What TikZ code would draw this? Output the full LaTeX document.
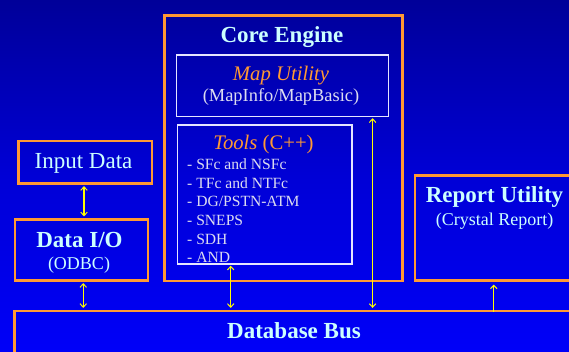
\documentclass[tikz,border=0pt]{standalone}
\usepackage{fontspec}
\setmainfont{Liberation Serif}
\usetikzlibrary{arrows.meta}

\definecolor{bgtop}{HTML}{000099}
\definecolor{bgmid}{HTML}{0000D6}
\definecolor{bgbot}{HTML}{0000F8}
\definecolor{frameorange}{HTML}{FF9933}
\definecolor{titlecyan}{HTML}{CCFFFF}
\definecolor{subgrey}{HTML}{DCDCF0}
\definecolor{linkyellow}{HTML}{FFFF00}

\tikzset{
  outerbox/.style={draw=frameorange, line width=2.5pt, inner sep=0pt},
  innerbox/.style={draw=white!90!blue, line width=1.4pt, inner sep=0pt},
  title/.style={text=titlecyan, font=\fontsize{23}{27}\selectfont\bfseries, anchor=base, inner sep=0pt},
  subtitle/.style={text=titlecyan, font=\fontsize{18}{21}\selectfont, anchor=base, inner sep=0pt},
  greysub/.style={text=subgrey, font=\fontsize{18.4}{21}\selectfont, anchor=base, inner sep=0pt},
  plain/.style={text=titlecyan, font=\fontsize{23}{27}\selectfont, anchor=base, inner sep=0pt},
  headline/.style={text=frameorange, font=\fontsize{20.7}{24}\selectfont, anchor=base, inner sep=0pt},
  listitem/.style={text=subgrey, font=\fontsize{15.6}{18}\selectfont, anchor=base west, inner sep=0pt},
  link/.style={draw=linkyellow, line width=1.1pt},
  tip/.tip={Straight Barb[length=3.5pt, width=6.5pt, line width=1pt]},
}

\begin{document}
\begin{tikzpicture}[x=1pt, y=-1pt]
  % backdrop
  \path[top color=bgtop, bottom color=bgbot, middle color=bgmid] (0,0) rectangle (569,351);
  \useasboundingbox (0,0) rectangle (569,351);

  % boxes (path centre-lines)
  \node[outerbox, anchor=north west, minimum width=133.5pt, minimum height=42.5pt] (input) at (17,139.5) {};
  \node[outerbox, anchor=north west, minimum width=133pt, minimum height=61pt] (dataio) at (13.5,218) {};
  \node[outerbox, anchor=north west, minimum width=238pt, minimum height=265.5pt] (core) at (163,14) {};
  \node[innerbox, anchor=north west, minimum width=212pt, minimum height=61.5pt] (map) at (175.5,54.3) {};
  \node[innerbox, anchor=north west, minimum width=174.6pt, minimum height=139pt] (tools) at (176.7,124.3) {};
  \node[outerbox, anchor=north west, minimum width=170pt, minimum height=105pt] (report) at (413.5,174) {};
  \node[outerbox, anchor=north west, minimum width=570pt, minimum height=60pt] (bus) at (13,309.5) {};

  % texts
  \node[title] (coret) at (282,42.7) {Core Engine};
  \node[headline] (mapt) at (281,80) {\itshape Map Utility};
  \node[greysub] (maps) at (281,101.5) {(MapInfo/MapBasic)};
  \node[headline] (toolst) at (263.5,149.3) {\itshape Tools\/ \upshape(C++)};
  \node[listitem] (l1) at (187,169.5) {- SFc and NSFc};
  \node[listitem] (l2) at (187,188.2) {- TFc and NTFc};
  \node[listitem] (l3) at (187,206.8) {- DG/PSTN-ATM};
  \node[listitem] (l4) at (187,225.5) {- SNEPS};
  \node[listitem] (l5) at (187,244.2) {- SDH};
  \node[listitem] (l6) at (187,262.6) {- AND};
  \node[plain] (inputt) at (83.5,168.3) {Input Data};
  \node[title] (dataiot) at (79.5,247.3) {Data I/O};
  \node[subtitle] (dataios) at (79,269.5) {(ODBC)};
  \node[title] (reportt) at (494.5,202.7) {Report Utility};
  \node[subtitle] (reports) at (494.5,225.5) {(Crystal Report)};
  \node[title] (bust) at (294,338) {Database Bus};

  % connectors
  \draw[link, {tip}-{tip}, shorten <=1.6pt, shorten >=1.6pt]
    ([xshift=-1pt]input.south) -- ([xshift=-1pt]input.south |- dataio.north);
  \draw[link, {tip}-{tip}, shorten <=1.6pt, shorten >=1.6pt]
    ([xshift=2pt]dataio.south) -- ([xshift=2pt]dataio.south |- bus.north);
  \draw[link, {tip}-{tip}, shorten <=1pt, shorten >=1.6pt]
    ([xshift=-34pt]tools.south) -- ([xshift=-34pt]tools.south |- bus.north);
  \draw[link, {tip}-{tip}, shorten <=1pt, shorten >=1.6pt]
    ([xshift=-16.3pt]map.south east) -- ([xshift=-16.3pt]map.south east |- bus.north);
  \draw[link, -{tip}, shorten >=3pt]
    ([xshift=-6pt, yshift=-2pt]report.south |- bus.north) -- ([xshift=-6pt]report.south);
\end{tikzpicture}
\end{document}
